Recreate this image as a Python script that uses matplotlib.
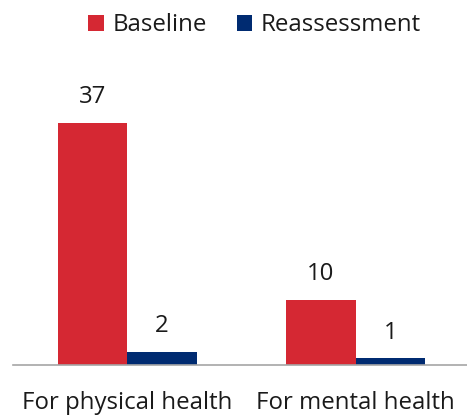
import matplotlib
matplotlib.use("Agg")
import matplotlib.pyplot as plt
import numpy as np

categories = ["For physical health", "For mental health"]
series_names = ["Baseline", "Reassessment"]
baseline = [37, 10]
reassessment = [2, 1]

RED = "#d52833"
NAVY = "#002b71"
FS = 17.3

plt.rcParams["font.family"] = ["Open Sans", "DejaVu Sans"]

fig = plt.figure(figsize=(4.67, 4.18), dpi=100)
ax = fig.add_axes([13 / 467, 53 / 418, 457 / 467, 294 / 418])

x = np.arange(len(categories))
width = 0.305

b1 = ax.bar(x - width / 2, baseline, width, color=RED, label=series_names[0])
b2 = ax.bar(x + width / 2, reassessment, width, color=NAVY, label=series_names[1])

for bars in (b1, b2):
    for rect in bars:
        h = rect.get_height()
        ax.annotate(f"{h:g}", (rect.get_x() + rect.get_width() / 2, h),
                    xytext=(0, 10), textcoords="offset points",
                    ha="center", va="bottom", fontsize=FS, color="#1a1a1a")

ax.set_xlim(-0.5, 1.5)
ax.set_ylim(0, 45)
ax.set_xticks(x)
ax.set_xticklabels(categories, fontsize=FS, color="#1a1a1a")
ax.tick_params(axis="x", length=0, pad=18.5)
ax.set_yticks([])
for side in ("top", "right", "left"):
    ax.spines[side].set_visible(False)
ax.spines["bottom"].set_color("#a6a6a6")
ax.spines["bottom"].set_linewidth(1.2)

fig.legend(loc="upper center", bbox_to_anchor=(0.545, 1.02), ncol=2, frameon=False,
           fontsize=FS, handlelength=0.65, handleheight=0.65, handletextpad=0.35,
           columnspacing=1.25, labelcolor="#1a1a1a")

fig.savefig("out.png", dpi=100)
